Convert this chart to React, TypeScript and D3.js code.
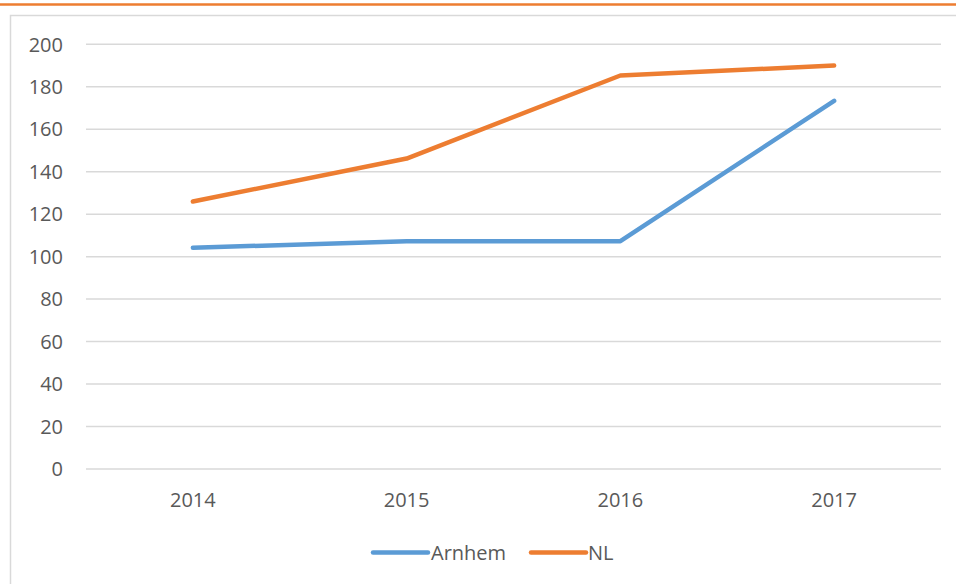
import React from "react";
import * as d3 from "d3";

const years = ["2014", "2015", "2016", "2017"];
const arnhem = [104.2, 107.2, 107.3, 173.4];
const nl = [126, 146.2, 185.3, 190];
const yTicks = [0, 20, 40, 60, 80, 100, 120, 140, 160, 180, 200];
const seriesNames = ["Arnhem", "NL"];

const W = 956;
const H = 584;
const BLUE = "#5B9BD5";
const ORANGE = "#ED7D31";
const GRID = "#D9D9D9";
const TEXT = "#595959";
const FONT = "'Open Sans', 'Noto Sans', sans-serif";

export default function App() {
  const x = d3.scaleBand<string>().domain(years).range([86, 941]);
  const y = d3.scaleLinear().domain([0, 200]).range([469, 44.3]);
  const cx = (d: string) => (x(d) as number) + x.bandwidth() / 2;
  const line = d3
    .line<number>()
    .x((_, i) => cx(years[i]))
    .y((v) => y(v));

  const series = [
    { name: seriesNames[0], values: arnhem, color: BLUE },
    { name: seriesNames[1], values: nl, color: ORANGE },
  ];

  const legend = [
    { name: seriesNames[0], color: BLUE, x0: 373, x1: 428, tx: 431 },
    { name: seriesNames[1], color: ORANGE, x0: 531, x1: 586, tx: 588 },
  ];

  return (
    <svg
      width={W}
      height={H}
      style={{ position: "absolute", left: 0, top: 0, background: "#fff" }}
    >
      <rect x={0} y={0} width={W} height={H} fill="#fff" />
      {/* top orange rule */}
      <line x1={0} x2={W} y1={4.5} y2={4.5} stroke={ORANGE} strokeWidth={2.5} />
      {/* chart frame */}
      <path d={`M10.5,${H + 5} V15.5 H${W + 5}`} fill="none" stroke={GRID} strokeWidth={1.5} />
      {/* gridlines */}
      {yTicks.map((t) => (
        <line key={t} x1={86} x2={941} y1={y(t)} y2={y(t)} stroke={GRID} strokeWidth={1.5} />
      ))}
      {/* y labels */}
      {yTicks.map((t) => (
        <text
          key={"l" + t}
          x={63}
          y={y(t)}
          dy="0.36em"
          textAnchor="end"
          fontFamily={FONT}
          fontSize={20}
          fill={TEXT}
        >
          {t}
        </text>
      ))}
      {/* x labels */}
      {years.map((yr) => (
        <text
          key={yr}
          x={cx(yr)}
          y={506.5}
          textAnchor="middle"
          fontFamily={FONT}
          fontSize={20}
          fill={TEXT}
        >
          {yr}
        </text>
      ))}
      {/* series */}
      {series.map((s) => (
        <path
          key={s.name}
          d={line(s.values) as string}
          fill="none"
          stroke={s.color}
          strokeWidth={4.5}
          strokeLinecap="round"
          strokeLinejoin="round"
        />
      ))}
      {/* legend */}
      {legend.map((l) => (
        <g key={l.name}>
          <line x1={l.x0} x2={l.x1} y1={552.5} y2={552.5} stroke={l.color} strokeWidth={4.5} strokeLinecap="round" />
          <text x={l.tx} y={552.5} dy="0.36em" fontFamily={FONT} fontSize={20} fill={TEXT}>
            {l.name}
          </text>
        </g>
      ))}
    </svg>
  );
}
